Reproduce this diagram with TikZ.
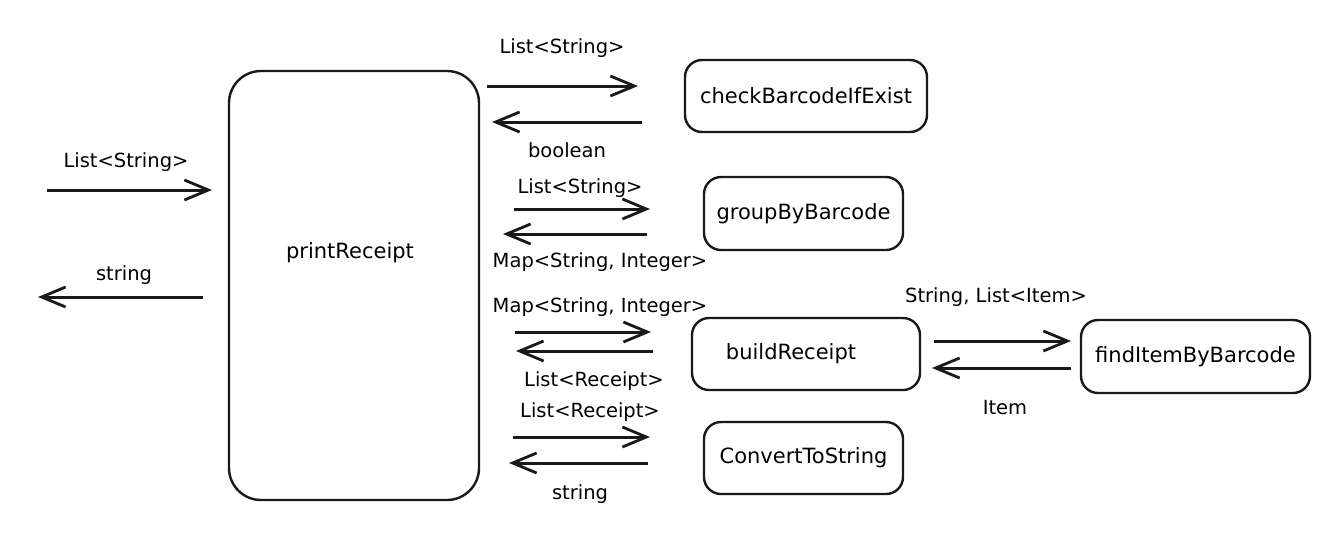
\documentclass[tikz,border=0pt]{standalone}
\usepackage{fontspec}
\setmainfont{DejaVu Sans}
\usetikzlibrary{arrows.meta}
\tikzset{
  x=1pt, y=-1pt,
  fn/.style={draw=black!90, line width=2.4pt, rounded corners=17pt, inner sep=0pt, font=\fontsize{21}{25}\selectfont},
  lbl/.style={font=\fontsize{19.5}{23}\selectfont, inner sep=0pt},
  flow/.style={draw=black!90, line width=3pt, -{Straight Barb[length=24pt,width=20pt,line width=2.8pt]}}
}
\begin{document}
\begin{tikzpicture}
\useasboundingbox (0,0) rectangle (1338,550);
% boxes
\node[fn, rounded corners=32pt, minimum width=250pt, minimum height=429pt] (pr) at (354,285.5) {};
\node[font=\fontsize{21}{25}\selectfont] (prt) at (350,253) {printReceipt};
\node[fn, minimum width=242pt, minimum height=72pt] (cb) at (806,96) {checkBarcodeIfExist};
\node[fn, minimum width=199pt, minimum height=73pt] (gb) at (803.5,213.5) {groupByBarcode};
\node[fn, minimum width=228pt, minimum height=72pt] (br) at (806,354) {\hspace*{-30pt}buildReceipt};
\node[fn, minimum width=229pt, minimum height=73pt] (fi) at (1195.5,356.5) {findItemByBarcode};
\node[fn, minimum width=199pt, minimum height=72pt] (cs) at (803.5,458) {ConvertToString};
% coordinates for arrow ends
\coordinate (in0) at (47,190); \coordinate (in1) at (212,190);
\coordinate (out0) at (203,297); \coordinate (out1) at (38,297);
\coordinate (a0) at (487,86); \coordinate (a1) at (638,86);
\coordinate (b0) at (642,122); \coordinate (b1) at (492,122);
\coordinate (c0) at (514,209); \coordinate (c1) at (650,209);
\coordinate (d0) at (647,234); \coordinate (d1) at (503,234);
\coordinate (e0) at (515,332); \coordinate (e1) at (651,332);
\coordinate (f0) at (653,351); \coordinate (f1) at (516,351);
\coordinate (g0) at (934,341); \coordinate (g1) at (1071,341);
\coordinate (h0) at (1071,368); \coordinate (h1) at (932,368);
\coordinate (i0) at (513,437); \coordinate (i1) at (650,437);
\coordinate (j0) at (648,463); \coordinate (j1) at (509,463);
% arrows
\draw[flow] (in0) -- (in1);
\draw[flow] (out0) -- (out1);
\draw[flow] (a0) -- (a1);
\draw[flow] (b0) -- (b1);
\draw[flow] (c0) -- (c1);
\draw[flow] (d0) -- (d1);
\draw[flow] (e0) -- (e1);
\draw[flow] (f0) -- (f1);
\draw[flow] (g0) -- (g1);
\draw[flow] (h0) -- (h1);
\draw[flow] (i0) -- (i1);
\draw[flow] (j0) -- (j1);
% labels
\node[lbl] (l1) at (126,162) {List<String>};
\node[lbl] (l2) at (124,275) {string};
\node[lbl] (l3) at (562,48) {List<String>};
\node[lbl] (l4) at (567,150) {boolean};
\node[lbl] (l5) at (580,188) {List<String>};
\node[lbl] (l6) at (600,262) {Map<String, Integer>};
\node[lbl] (l7) at (600,307) {Map<String, Integer>};
\node[lbl] (l8) at (594,381) {List<Receipt>};
\node[lbl] (l9) at (996,297) {String, List<Item>};
\node[lbl] (l10) at (1005,408) {Item};
\node[lbl] (l11) at (590,412) {List<Receipt>};
\node[lbl] (l12) at (580,494) {string};
\end{tikzpicture}
\end{document}
